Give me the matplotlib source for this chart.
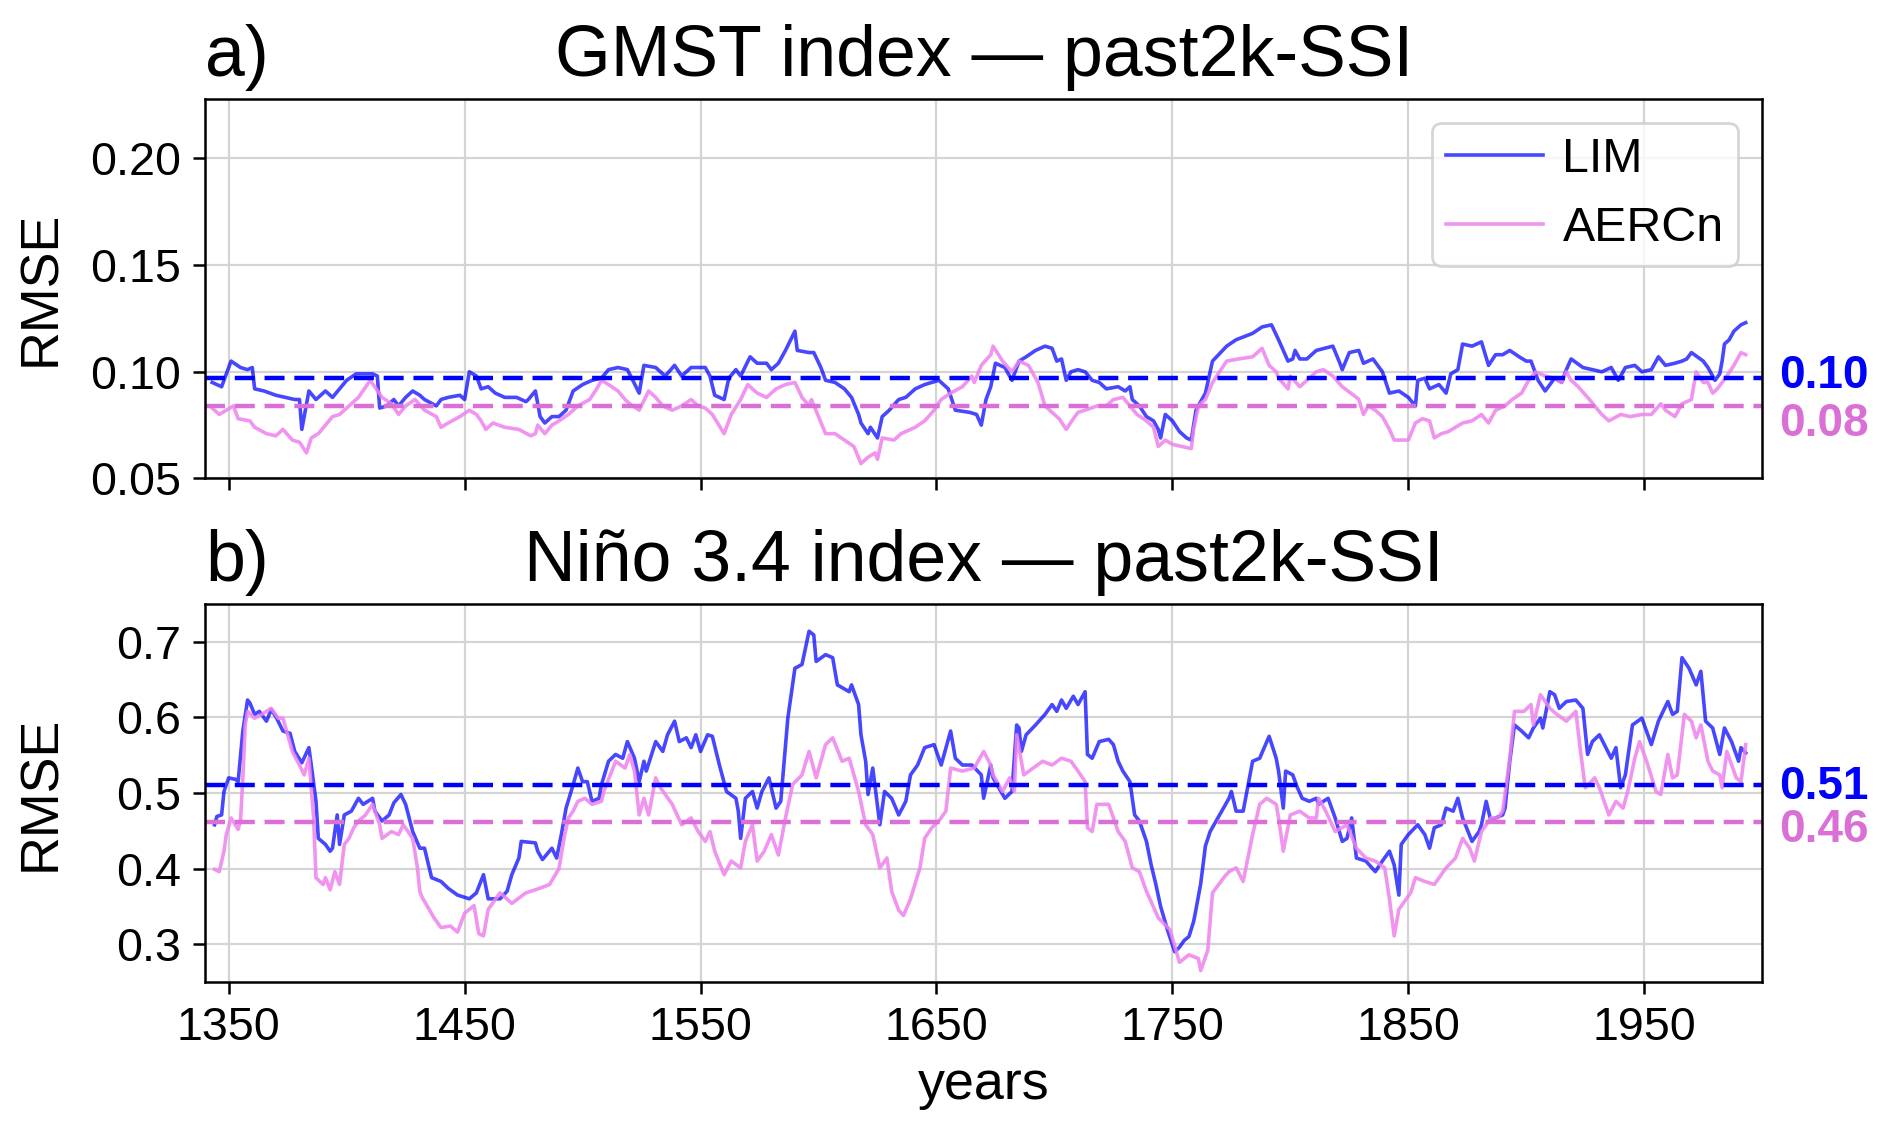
import numpy as np
import matplotlib
matplotlib.use("Agg")
import matplotlib.pyplot as plt

plt.rcParams['font.family'] = ['Liberation Sans', 'DejaVu Sans']

# ---- panel a: GMST index ----
gmst_lim_years = [1343, 1347, 1351, 1355, 1358, 1360, 1361, 1365, 1370, 1374, 1378, 1380, 1381, 1384, 1387,
                  1391, 1394, 1397, 1400, 1404, 1411, 1413, 1414, 1417, 1420, 1422, 1425, 1428, 1431, 1433,
                  1438, 1440, 1443, 1448, 1450, 1452, 1455, 1457, 1460, 1463, 1467, 1472, 1476, 1477, 1480,
                  1482, 1484, 1487, 1490, 1493, 1496, 1500, 1504, 1508, 1511, 1515, 1519, 1524, 1526, 1531,
                  1535, 1539, 1542, 1546, 1552, 1554, 1556, 1560, 1562, 1565, 1567, 1571, 1574, 1578, 1580,
                  1583, 1586, 1590, 1591, 1596, 1598, 1601, 1603, 1607, 1611, 1614, 1617, 1618, 1621, 1622,
                  1625, 1627, 1630, 1634, 1637, 1641, 1645, 1651, 1655, 1658, 1664, 1667, 1669, 1671, 1673,
                  1675, 1679, 1682, 1685, 1688, 1692, 1696, 1699, 1701, 1703, 1705, 1707, 1710, 1713, 1716,
                  1719, 1722, 1727, 1730, 1732, 1733, 1736, 1739, 1742, 1744, 1745, 1747, 1750, 1753, 1756,
                  1758, 1760, 1764, 1767, 1773, 1777, 1784, 1788, 1792, 1795, 1797, 1799, 1801, 1802, 1804,
                  1807, 1811, 1818, 1821, 1822, 1825, 1829, 1831, 1835, 1839, 1842, 1846, 1850, 1853, 1854,
                  1857, 1859, 1863, 1866, 1868, 1871, 1873, 1877, 1881, 1884, 1887, 1890, 1893, 1897, 1900,
                  1902, 1905, 1908, 1912, 1915, 1917, 1919, 1924, 1928, 1932, 1936, 1939, 1942, 1946, 1949,
                  1953, 1956, 1959, 1963, 1966, 1968, 1970, 1975, 1977, 1980, 1982, 1983, 1984, 1986, 1988,
                  1989, 1991, 1993]
gmst_lim = [.095, .093, .105, .102, .101, .102, .092, .091, .089, .088, .087, .087, .073, .091, .087,
            .091, .088, .092, .096, .099, .099, .098, .083, .084, .087, .084, .088, .091, .089, .087,
            .084, .087, .088, .089, .087, .100, .098, .092, .093, .090, .088, .088, .086, .087, .091,
            .079, .076, .079, .079, .082, .091, .094, .096, .097, .101, .102, .101, .090, .103, .102,
            .098, .103, .098, .102, .102, .098, .089, .087, .097, .101, .098, .107, .104, .104, .101,
            .104, .110, .119, .110, .109, .109, .102, .096, .095, .092, .088, .080, .076, .071, .074,
            .069, .079, .082, .087, .088, .092, .094, .096, .092, .082, .081, .080, .075, .087, .093,
            .104, .102, .096, .105, .107, .110, .112, .111, .105, .106, .096, .100, .101, .100, .096,
            .095, .092, .093, .091, .093, .087, .084, .079, .077, .073, .069, .080, .077, .072, .069,
            .068, .082, .090, .105, .112, .115, .118, .121, .122, .115, .110, .105, .106, .110, .106,
            .106, .110, .112, .104, .101, .109, .110, .104, .106, .100, .090, .091, .088, .084, .096,
            .097, .092, .094, .090, .099, .101, .113, .112, .114, .103, .108, .108, .110, .107, .105,
            .105, .096, .091, .097, .095, .101, .106, .102, .101, .100, .102, .096, .102, .103, .100,
            .101, .107, .103, .104, .105, .106, .109, .105, .102, .096, .099, .105, .113, .115, .119,
            .120, .122, .123]

gmst_aer_years = [1343, 1346, 1352, 1354, 1359, 1361, 1366, 1370, 1373, 1377, 1380, 1383, 1385, 1388, 1391,
                  1394, 1397, 1401, 1405, 1410, 1415, 1419, 1422, 1425, 1429, 1433, 1438, 1440, 1443, 1448,
                  1452, 1455, 1457, 1459, 1462, 1467, 1473, 1478, 1480, 1481, 1484, 1487, 1490, 1494, 1498,
                  1503, 1506, 1508, 1511, 1515, 1518, 1520, 1524, 1528, 1531, 1534, 1538, 1542, 1546, 1549,
                  1552, 1555, 1560, 1563, 1567, 1570, 1574, 1578, 1582, 1586, 1590, 1593, 1596, 1597, 1600,
                  1603, 1607, 1611, 1615, 1618, 1621, 1624, 1625, 1627, 1632, 1635, 1641, 1645, 1649, 1652,
                  1656, 1661, 1665, 1666, 1669, 1673, 1674, 1678, 1682, 1685, 1689, 1693, 1696, 1699, 1702,
                  1705, 1708, 1710, 1713, 1718, 1722, 1725, 1729, 1732, 1735, 1739, 1742, 1744, 1747, 1750,
                  1754, 1758, 1759, 1761, 1764, 1767, 1770, 1773, 1778, 1784, 1788, 1791, 1794, 1795, 1799,
                  1800, 1804, 1807, 1811, 1814, 1818, 1822, 1828, 1829, 1831, 1833, 1836, 1839, 1842, 1844,
                  1847, 1850, 1853, 1856, 1859, 1861, 1864, 1867, 1870, 1873, 1877, 1881, 1884, 1887, 1891,
                  1894, 1898, 1901, 1904, 1908, 1912, 1915, 1917, 1919, 1922, 1926, 1929, 1932, 1935, 1940,
                  1944, 1949, 1953, 1957, 1959, 1963, 1966, 1970, 1972, 1975, 1977, 1979, 1981, 1983, 1985,
                  1988, 1991, 1993]
gmst_aer = [.083, .080, .084, .078, .077, .074, .071, .070, .073, .068, .067, .062, .069, .071, .075,
            .079, .080, .084, .088, .096, .088, .085, .080, .084, .087, .082, .079, .074, .076, .079,
            .082, .080, .077, .073, .076, .074, .073, .070, .071, .075, .071, .075, .077, .080, .084,
            .087, .092, .096, .094, .091, .087, .085, .082, .091, .088, .084, .082, .084, .087, .084,
            .083, .080, .071, .080, .087, .094, .090, .088, .092, .094, .095, .088, .084, .087, .079,
            .071, .071, .068, .065, .057, .060, .062, .059, .069, .068, .071, .074, .077, .082, .087,
            .090, .093, .098, .095, .103, .108, .112, .105, .100, .105, .103, .095, .084, .081, .078,
            .073, .078, .081, .082, .084, .084, .087, .088, .084, .080, .077, .074, .065, .068, .066,
            .065, .064, .073, .084, .087, .095, .100, .105, .106, .107, .111, .103, .100, .097, .092,
            .098, .093, .096, .100, .101, .098, .093, .088, .087, .080, .084, .082, .079, .073, .068,
            .068, .068, .076, .078, .077, .069, .071, .072, .074, .076, .077, .080, .076, .082, .084,
            .087, .090, .096, .100, .098, .097, .095, .100, .096, .093, .088, .084, .080, .077, .080,
            .079, .080, .080, .085, .082, .079, .085, .087, .100, .095, .095, .090, .092, .095, .098,
            .103, .109, .108]

# ---- panel b: Nino 3.4 index ----
nino_lim_years = [1344, 1345, 1347, 1348, 1350, 1353, 1354, 1356, 1358, 1359, 1361, 1363, 1366, 1368, 1370,
                  1373, 1376, 1378, 1381, 1384, 1385, 1387, 1388, 1391, 1393, 1394, 1396, 1397, 1399, 1402,
                  1405, 1407, 1411, 1412, 1415, 1418, 1420, 1423, 1425, 1428, 1431, 1433, 1436, 1440, 1443,
                  1447, 1452, 1455, 1458, 1460, 1465, 1468, 1470, 1473, 1474, 1480, 1481, 1483, 1487, 1489,
                  1491, 1493, 1496, 1498, 1500, 1502, 1504, 1507, 1508, 1511, 1514, 1517, 1519, 1522, 1524,
                  1526, 1527, 1531, 1534, 1536, 1539, 1541, 1544, 1546, 1548, 1550, 1553, 1555, 1558, 1561,
                  1565, 1566, 1567, 1569, 1572, 1574, 1576, 1579, 1582, 1584, 1587, 1590, 1593, 1596, 1598,
                  1599, 1603, 1606, 1608, 1613, 1614, 1617, 1618, 1620, 1621, 1623, 1626, 1628, 1631, 1634,
                  1637, 1639, 1642, 1645, 1649, 1652, 1656, 1658, 1661, 1665, 1669, 1670, 1673, 1674, 1679,
                  1682, 1684, 1685, 1686, 1688, 1692, 1696, 1699, 1701, 1703, 1705, 1708, 1710, 1713, 1714,
                  1716, 1719, 1723, 1725, 1727, 1729, 1732, 1734, 1736, 1739, 1741, 1743, 1745, 1748, 1751,
                  1753, 1755, 1757, 1759, 1760, 1762, 1764, 1766, 1770, 1774, 1775, 1777, 1780, 1784, 1787,
                  1791, 1794, 1795, 1797, 1798, 1801, 1803, 1805, 1808, 1811, 1812, 1816, 1819, 1822, 1824,
                  1826, 1828, 1832, 1836, 1839, 1842, 1844, 1846, 1847, 1850, 1854, 1857, 1859, 1861, 1864,
                  1866, 1869, 1871, 1873, 1877, 1880, 1881, 1883, 1885, 1887, 1890, 1891, 1893, 1895, 1898,
                  1901, 1903, 1906, 1907, 1910, 1912, 1914, 1917, 1921, 1924, 1926, 1928, 1931, 1936, 1938,
                  1940, 1942, 1945, 1949, 1953, 1956, 1960, 1962, 1964, 1966, 1969, 1972, 1974, 1976, 1979,
                  1982, 1984, 1987, 1990, 1991, 1993]
nino_lim = [.458, .469, .471, .502, .520, .518, .515, .582, .623, .619, .604, .608, .595, .610, .601,
            .582, .579, .555, .540, .560, .537, .489, .440, .432, .423, .427, .471, .432, .471, .476,
            .493, .485, .493, .476, .463, .471, .487, .498, .485, .449, .427, .427, .388, .383, .374,
            .365, .360, .368, .392, .360, .360, .370, .392, .414, .436, .434, .423, .412, .427, .414,
            .445, .480, .511, .533, .515, .515, .489, .493, .511, .542, .551, .546, .568, .546, .515,
            .542, .529, .568, .555, .577, .595, .568, .573, .560, .577, .555, .577, .575, .537, .502,
            .493, .476, .440, .493, .502, .480, .502, .520, .480, .489, .599, .665, .670, .714, .709,
            .674, .683, .679, .643, .634, .643, .617, .577, .542, .498, .533, .458, .502, .493, .471,
            .489, .524, .537, .560, .564, .537, .582, .546, .537, .537, .524, .493, .537, .520, .493,
            .502, .590, .586, .555, .577, .590, .604, .617, .608, .623, .612, .628, .617, .634, .551,
            .546, .568, .571, .564, .542, .529, .515, .471, .463, .436, .405, .379, .350, .318, .290,
            .296, .305, .310, .330, .346, .380, .430, .449, .471, .493, .502, .476, .476, .542, .546,
            .575, .546, .529, .480, .529, .524, .507, .493, .489, .493, .485, .493, .467, .436, .440,
            .467, .414, .410, .396, .410, .423, .405, .365, .432, .445, .458, .445, .427, .454, .458,
            .480, .476, .493, .467, .436, .449, .458, .489, .463, .467, .471, .480, .542, .590, .582,
            .573, .586, .599, .586, .634, .630, .612, .621, .623, .612, .551, .568, .577, .546, .560,
            .507, .524, .590, .599, .564, .595, .621, .604, .608, .679, .665, .643, .661, .595, .586,
            .551, .586, .568, .542, .560, .553]

nino_aer_years = [1344, 1346, 1348, 1349, 1351, 1354, 1355, 1356, 1357, 1358, 1361, 1364, 1368, 1371, 1373,
                  1375, 1377, 1380, 1382, 1384, 1386, 1387, 1390, 1391, 1393, 1395, 1397, 1399, 1401, 1403,
                  1405, 1408, 1411, 1414, 1415, 1419, 1422, 1424, 1428, 1430, 1431, 1432, 1437, 1440, 1444,
                  1447, 1450, 1454, 1456, 1458, 1460, 1465, 1470, 1476, 1481, 1486, 1490, 1492, 1494, 1496,
                  1498, 1501, 1504, 1508, 1509, 1514, 1518, 1520, 1522, 1524, 1526, 1528, 1531, 1533, 1538,
                  1542, 1546, 1549, 1552, 1554, 1556, 1560, 1563, 1567, 1569, 1572, 1574, 1577, 1580, 1583,
                  1586, 1589, 1593, 1596, 1599, 1603, 1606, 1610, 1613, 1617, 1620, 1623, 1626, 1629, 1631,
                  1634, 1636, 1639, 1643, 1645, 1648, 1651, 1654, 1656, 1661, 1666, 1670, 1673, 1674, 1678,
                  1681, 1683, 1684, 1687, 1691, 1695, 1699, 1703, 1707, 1710, 1713, 1714, 1716, 1718, 1723,
                  1727, 1730, 1733, 1736, 1739, 1744, 1749, 1753, 1757, 1761, 1762, 1765, 1767, 1772, 1774,
                  1777, 1780, 1784, 1787, 1790, 1794, 1795, 1797, 1800, 1804, 1808, 1811, 1812, 1815, 1819,
                  1824, 1828, 1832, 1836, 1840, 1842, 1844, 1846, 1851, 1853, 1857, 1861, 1866, 1870, 1873,
                  1876, 1878, 1881, 1885, 1888, 1890, 1893, 1895, 1899, 1902, 1903, 1906, 1910, 1913, 1917,
                  1921, 1923, 1925, 1929, 1931, 1935, 1938, 1941, 1943, 1946, 1948, 1951, 1955, 1957, 1960,
                  1962, 1964, 1967, 1970, 1972, 1974, 1977, 1979, 1982, 1983, 1985, 1989, 1991, 1993]
nino_aer = [.399, .396, .423, .445, .467, .452, .463, .520, .590, .608, .599, .604, .612, .599, .599,
            .577, .555, .537, .524, .546, .467, .388, .379, .388, .372, .396, .379, .432, .440, .454,
            .463, .471, .485, .458, .440, .449, .445, .458, .440, .401, .370, .362, .335, .322, .324,
            .316, .341, .351, .314, .311, .346, .368, .354, .368, .373, .379, .400, .438, .467, .476,
            .489, .493, .485, .489, .502, .542, .533, .551, .529, .471, .493, .471, .520, .507, .485,
            .458, .467, .449, .436, .449, .423, .392, .410, .401, .436, .458, .410, .423, .445, .418,
            .467, .511, .524, .555, .520, .564, .573, .542, .546, .502, .458, .445, .401, .414, .370,
            .345, .338, .360, .401, .440, .454, .463, .476, .533, .529, .533, .555, .537, .524, .502,
            .520, .502, .577, .524, .533, .542, .537, .546, .542, .529, .515, .454, .449, .485, .485,
            .449, .436, .401, .396, .370, .335, .319, .276, .286, .281, .265, .292, .368, .389, .396,
            .401, .383, .445, .485, .493, .485, .467, .423, .471, .476, .467, .467, .493, .476, .449,
            .458, .427, .414, .410, .401, .360, .311, .346, .368, .388, .383, .379, .401, .414, .440,
            .427, .410, .449, .467, .467, .476, .546, .608, .608, .617, .590, .630, .612, .604, .595,
            .608, .555, .507, .520, .507, .471, .489, .480, .502, .546, .568, .542, .502, .498, .551,
            .520, .524, .604, .595, .573, .590, .542, .529, .524, .507, .555, .520, .515, .564]

# time-mean RMSE (dashed lines)
gmst_means = [0.097, 0.084]
nino_means = [0.511, 0.461]

xticks = [1350, 1450, 1550, 1650, 1750, 1850, 1950]


def draw_panel(ax, lim_years, lim, aer_years, aer, means, label_offsets, ylim, yticks, yfmt, title, letter):
    ax.plot(lim_years, lim, color='blue', alpha=0.72, lw=1.3, label='LIM')
    ax.plot(aer_years, aer, color='violet', alpha=0.85, lw=1.3, label='AERCn')
    ax.axhline(means[0], color='blue', ls=(0, (4.5, 2.2)), lw=1.6)
    ax.axhline(means[1], color='orchid', ls=(0, (4.5, 2.2)), lw=1.6)

    for m, off, c in zip(means, label_offsets, ['blue', 'orchid']):
        ax.annotate(f"{m:.2f}", xy=(1, m), xycoords=('axes fraction', 'data'),
                    xytext=(6, off), textcoords='offset points',
                    ha='left', va='baseline', color=c, fontweight='bold', fontsize=16.5)

    ax.set_xlim(1340, 2000)
    ax.set_ylim(*ylim)
    ax.set_xticks(xticks)
    ax.set_yticks(yticks)
    ax.set_yticklabels([yfmt.format(t) for t in yticks])
    ax.grid(True, color='#d4d4d4', lw=0.8)
    ax.set_axisbelow(True)
    ax.tick_params(length=4.3, width=0.9, labelsize=16.8, pad=4.5)
    for s in ax.spines.values():
        s.set_linewidth(0.9)
    ax.set_ylabel('RMSE', fontsize=19.4)
    ax.yaxis.set_label_coords(-0.089, 0.5)
    ax.set_title(title, fontsize=25.8, pad=8.2)
    ax.set_title(letter, loc='left', fontsize=25.8, pad=8.2)


def main():
    fig = plt.figure(figsize=(9.46, 5.71), dpi=200)
    ax1 = fig.add_axes([0.1084, 0.581, 0.823, 0.3327])
    ax2 = fig.add_axes([0.1084, 0.1401, 0.823, 0.3310])

    draw_panel(ax1, gmst_lim_years, gmst_lim, gmst_aer_years, gmst_aer, gmst_means,
               [-3.6, -10.9], (0.05, 0.228), [0.05, 0.10, 0.15, 0.20], '{:.2f}',
               'GMST index — past2k-SSI', 'a)')
    draw_panel(ax2, nino_lim_years, nino_lim, nino_aer_years, nino_aer, nino_means,
               [-5.0, -6.9], (0.25, 0.75), [0.3, 0.4, 0.5, 0.6, 0.7], '{:.1f}',
               'Niño 3.4 index — past2k-SSI', 'b)')

    ax1.tick_params(labelbottom=False)
    ax1.legend(loc='upper right', fontsize=17.4, borderpad=0.3, handletextpad=0.4)

    ax2.set_xlabel('years', fontsize=19.4)
    ax2.xaxis.set_label_coords(0.5, -0.206)

    fig.savefig('out.png', dpi=200)


if __name__ == "__main__":
    main()
